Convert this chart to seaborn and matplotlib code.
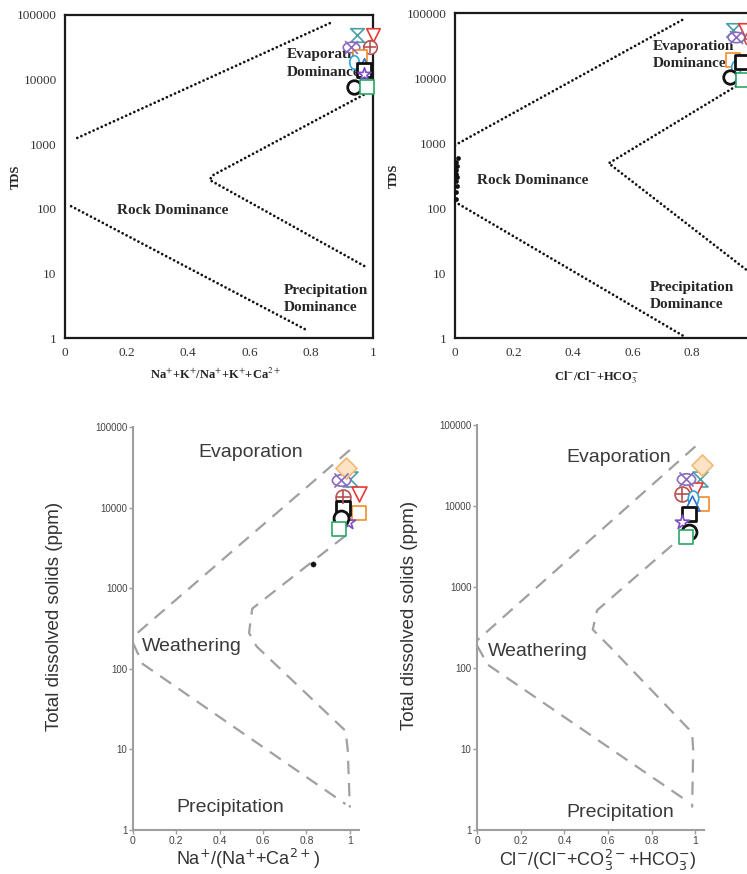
import numpy as np
import matplotlib
matplotlib.use("Agg")
import matplotlib.pyplot as plt
import seaborn as sns
from matplotlib.path import Path
from matplotlib.transforms import Affine2D
from matplotlib.ticker import NullLocator

sns.set_theme(style="white")
plt.rcParams["font.family"] = ["Liberation Sans", "DejaVu Sans"]

SERIF = ["Liberation Serif", "DejaVu Serif"]
nan = np.nan

# ---- Gibbs boundary lines ----
# top-left (cations, dotted)
tl_upper_x = [0.04, 0.87]
tl_upper_y = [1250, 78000]
tl_mid_x = [0.97, 0.48, 0.47, 0.98]
tl_mid_y = [5800, 330, 280, 12.5]
tl_lower_x = [0.02, 0.79]
tl_lower_y = [110, 1.3]

# top-right (anions, dotted)
tr_upper_x = [0.0, 0.78]
tr_upper_y = [930, 84000]
tr_mid_x = [0.95, 0.52, 1.0]
tr_mid_y = [7500, 490, 10]
tr_lower_x = [0.0, 0.77]
tr_lower_y = [125, 1.1]

# bottom-left (cations, dashed)
bl_outer_x = [1.0, 0.0]
bl_outer_y = [52000, 250]
bl_low_x = [0.0, 0.045, 0.98]
bl_low_y = [210, 115, 2.1]
bl_inner_x = [0.98, 0.55, 0.535, 0.57, 0.98, 0.99, 1.0]
bl_inner_y = [4500, 560, 280, 190, 17, 10, 1.9]

# bottom-right (anions, dashed)
br_outer_x = [1.0, 0.0]
br_outer_y = [55000, 220]
br_low_x = [0.0, 0.05, 0.96]
br_low_y = [190, 110, 2.3]
br_inner_x = [0.97, 0.55, 0.53, 0.61, 0.985, 0.99, 0.985]
br_inner_y = [5000, 520, 300, 182, 16, 9.7, 1.9]

# ---- samples ----
sample_names = ["S1", "S2", "S3", "S4", "S5", "S6", "S7", "S8", "S9", "S10", "S11", "S12"]
sample_colors = ["#4a9fa5", "#e53935", "#8a6bbf", "#b5524f", "#f28c28", "#29a8e0",
                 "#2f6fd0", "#111111", "#7d4cc4", "#111111", "#2aa866", "#f3b875"]

tl_x = [0.95, 1.00, 0.93, 0.99, 0.96, 0.94, 0.97, 0.97, 0.97, 0.94, 0.98, nan]
tl_y = [49000, 49000, 32000, 32000, 22000, 18500, 17000, 14000, 12000, 7600, 7600, nan]
tr_x = [0.94, 0.98, 0.95, 1.00, 0.94, 0.95, nan, 0.97, nan, 0.93, 0.975, nan]
tr_y = [55000, 55000, 43000, 40000, 19000, 15000, nan, 17500, nan, 10400, 9300, nan]
bl_x = [1.00, 1.04, 0.96, 0.97, 1.04, nan, nan, 0.97, 0.99, 0.96, 0.95, 0.98]
bl_y = [23000, 15000, 22000, 13700, 8500, nan, nan, 9800, 6700, 7400, 5500, 31000]
br_x = [1.02, 1.00, 0.955, 0.94, 1.03, 0.99, 0.985, 0.97, 0.94, 0.97, 0.955, 1.03]
br_y = [22000, 16000, 22000, 14000, 10700, 12600, 11000, 8100, 6400, 4800, 4200, 32000]

# near-zero chloride cluster in the top-right panel
tr_rock_x = [0.002, 0.004, 0.006, 0.003, 0.008, 0.005, 0.002, 0.007, 0.004, 0.01]
tr_rock_y = [140, 180, 220, 260, 300, 340, 380, 450, 520, 600]
bl_dot_x = [0.83]
bl_dot_y = [2000]

y_ticks = [1, 10, 100, 1000, 10000, 100000]
y_labels = ["1", "10", "100", "1000", "10000", "100000"]
x_ticks = [0, 0.2, 0.4, 0.6, 0.8, 1.0]
x_labels = ["0", "0.2", "0.4", "0.6", "0.8", "1"]

ellipse = Path.unit_circle().transformed(Affine2D().scale(1.6, 1.0))
tall_ellipse = Path.unit_circle().transformed(Affine2D().scale(0.7, 1.0))
hourglass = Path([(-1, 1), (1, 1), (-1, -1), (1, -1), (-1, 1)], closed=True)
sample_shapes = [hourglass, "v", ellipse, "o", "s", tall_ellipse, "^", "s", "*", "o", "s", "D"]
sample_overlay = [None, None, "x", "+", None, None, None, None, None, None, None, None]


def draw_samples(ax, xs, ys, size):
    for c, shape, extra, x, y in zip(sample_colors, sample_shapes, sample_overlay, xs, ys):
        if np.isnan(x):
            continue
        lw = 2.0 if c == "#111111" else 1.2
        s = size * 1.5 if shape is ellipse else size
        face = "#fbe3c4" if shape == "D" else "white"
        sns.scatterplot(x=[x], y=[y], ax=ax, marker=shape, s=s, facecolor=face,
                        edgecolor=c, linewidth=lw, zorder=5, clip_on=False, legend=False)
        if extra:
            sns.scatterplot(x=[x], y=[y], ax=ax, marker=extra, s=size * 0.9, color=c,
                            edgecolor=c, linewidth=lw, zorder=6, clip_on=False, legend=False)


def dotted(ax, x, y):
    sns.lineplot(x=x, y=y, ax=ax, sort=False, estimator=None, color="#111111",
                 linewidth=2.0, linestyle=(0, (0.01, 1.6)), dash_capstyle="round", zorder=2)


def dashed(ax, x, y):
    sns.lineplot(x=x, y=y, ax=ax, sort=False, estimator=None, color="#a0a0a0",
                 linewidth=1.6, linestyle=(0, (6, 4)), zorder=2)


def style_top(ax, xlabel, xticks, xlabels):
    ax.set_yscale("log")
    ax.set_xlim(0, 1)
    ax.set_ylim(1, 100000)
    ax.set_yticks(y_ticks)
    ax.set_yticklabels(y_labels, fontfamily=SERIF, fontsize=9.5, color="#333333")
    ax.set_xticks(xticks)
    ax.set_xticklabels(xlabels, fontfamily=SERIF, fontsize=9.5, color="#333333")
    ax.yaxis.set_minor_locator(NullLocator())
    ax.tick_params(length=0, pad=6)
    for sp in ax.spines.values():
        sp.set_visible(True)
        sp.set_color("#1a1a1a")
        sp.set_linewidth(1.6)
    ax.set_xlabel(xlabel, fontfamily=SERIF, fontsize=9, fontweight="bold",
                  color="#222222", math_fontfamily="stix")
    ax.set_ylabel("TDS", fontfamily=SERIF, fontsize=9, fontweight="bold", color="#222222")


def style_bottom(ax, xlabel):
    ax.set_yscale("log")
    ax.set_xlim(0, 1.04)
    ax.set_ylim(1, 100000)
    ax.set_yticks(y_ticks)
    ax.set_yticklabels(y_labels, fontsize=7, color="#444444")
    ax.set_xticks(x_ticks)
    ax.set_xticklabels(x_labels, fontsize=7.5, color="#444444")
    ax.yaxis.set_minor_locator(NullLocator())
    ax.tick_params(length=3, width=1, color="#9e9e9e", pad=1, left=True, bottom=True)
    sns.despine(ax=ax)
    for side in ["left", "bottom"]:
        ax.spines[side].set_color("#9e9e9e")
        ax.spines[side].set_linewidth(1.5)
    ax.set_xlabel(xlabel, fontsize=13, color="#333333", math_fontfamily="dejavusans")
    ax.set_ylabel("Total dissolved solids (ppm)", fontsize=13.5, color="#333333")


def top_text(ax, x, y, s):
    ax.text(x, y, s, fontfamily=SERIF, fontsize=11, fontweight="bold",
            color="#262626", va="center", ha="left", zorder=3)


def bottom_text(ax, x, y, s):
    ax.text(x, y, s, fontsize=14, color="#3a3a3a", va="center", ha="left", zorder=3)


fig = plt.figure(figsize=(7.47, 8.74), dpi=100)

# ---- top-left ----
ax1 = fig.add_axes([0.087, 0.613, 0.412, 0.370])
style_top(ax1, r"Na$^{+}$+K$^{+}$/Na$^{+}$+K$^{+}$+Ca$^{2+}$", x_ticks, x_labels)
dotted(ax1, tl_upper_x, tl_upper_y)
dotted(ax1, tl_mid_x, tl_mid_y)
dotted(ax1, tl_lower_x, tl_lower_y)
top_text(ax1, 0.72, 24000, "Evaporation")
top_text(ax1, 0.72, 13000, "Dominance")
top_text(ax1, 0.17, 95, "Rock Dominance")
top_text(ax1, 0.71, 5.5, "Precipitation")
top_text(ax1, 0.71, 3.0, "Dominance")
draw_samples(ax1, tl_x, tl_y, 95)
ax1.xaxis.set_label_coords(0.49, -0.09)
ax1.yaxis.set_label_coords(-0.14, 0.5)

# ---- top-right (right edge runs off the figure, so the "1" label is not shown) ----
ax2 = fig.add_axes([0.609, 0.613, 0.396, 0.372])
style_top(ax2, r"Cl$^{-}$/Cl$^{-}$+HCO$^{-}_{3}$", x_ticks[:-1], x_labels[:-1])
dotted(ax2, tr_upper_x, tr_upper_y)
dotted(ax2, tr_mid_x, tr_mid_y)
dotted(ax2, tr_lower_x, tr_lower_y)
top_text(ax2, 0.67, 31000, "Evaporation")
top_text(ax2, 0.67, 17000, "Dominance")
top_text(ax2, 0.075, 270, "Rock Dominance")
top_text(ax2, 0.66, 6.0, "Precipitation")
top_text(ax2, 0.66, 3.3, "Dominance")
sns.scatterplot(x=tr_rock_x, y=tr_rock_y, ax=ax2, s=10, color="#111111",
                edgecolor="#111111", zorder=4, clip_on=False, legend=False)
draw_samples(ax2, tr_x, tr_y, 95)
ax2.xaxis.set_label_coords(0.48, -0.095)
ax2.yaxis.set_label_coords(-0.186, 0.5)

# ---- bottom-left ----
ax3 = fig.add_axes([0.178, 0.0503, 0.302, 0.461])
style_bottom(ax3, r"Na$^{+}$/(Na$^{+}$+Ca$^{2+}$)")
dashed(ax3, bl_outer_x, bl_outer_y)
dashed(ax3, bl_low_x, bl_low_y)
dashed(ax3, bl_inner_x, bl_inner_y)
bottom_text(ax3, 0.30, 49000, "Evaporation")
bottom_text(ax3, 0.04, 190, "Weathering")
bottom_text(ax3, 0.20, 1.9, "Precipitation")
sns.scatterplot(x=bl_dot_x, y=bl_dot_y, ax=ax3, s=14, color="#111111",
                edgecolor="#111111", zorder=4, legend=False)
draw_samples(ax3, bl_x, bl_y, 115)
ax3.xaxis.set_label_coords(0.51, -0.043)
ax3.yaxis.set_label_coords(-0.31, 0.53)

# ---- bottom-right ----
ax4 = fig.add_axes([0.6386, 0.0503, 0.304, 0.463])
style_bottom(ax4, r"Cl$^{-}$/(Cl$^{-}$+CO$_{3}^{2-}$+HCO$_{3}^{-}$)")
dashed(ax4, br_outer_x, br_outer_y)
dashed(ax4, br_low_x, br_low_y)
dashed(ax4, br_inner_x, br_inner_y)
bottom_text(ax4, 0.41, 40000, "Evaporation")
bottom_text(ax4, 0.05, 160, "Weathering")
bottom_text(ax4, 0.41, 1.65, "Precipitation")
draw_samples(ax4, br_x, br_y, 115)
ax4.xaxis.set_label_coords(0.53, -0.043)
ax4.yaxis.set_label_coords(-0.26, 0.53)

fig.savefig("out.png", dpi=100)
